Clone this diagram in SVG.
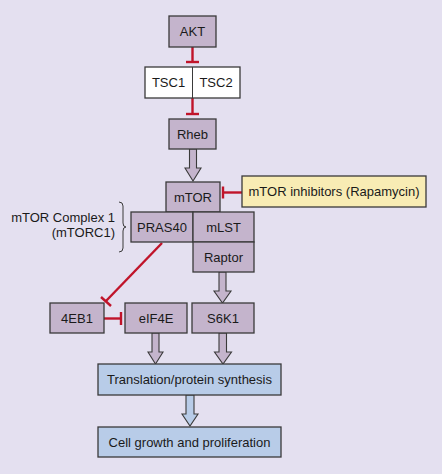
<svg xmlns="http://www.w3.org/2000/svg" width="442" height="474" viewBox="0 0 442 474">
<defs>
<style>
.bg{fill:#e4e0f0}
.n{fill:#c4b4cc;stroke:#3a3a3a;stroke-width:1.3}
.w{fill:#ffffff;stroke:#3a3a3a;stroke-width:1.3}
.b{fill:#b8cce8;stroke:#3a3a3a;stroke-width:1.3}
.y{fill:#f8ecb4;stroke:#3a3a3a;stroke-width:1.3}
.t{font-family:"Liberation Sans",Arial,sans-serif;font-size:13px;fill:#1a1a1a;text-anchor:middle}
.tr{font-family:"Liberation Sans",Arial,sans-serif;font-size:13px;fill:#1a1a1a;text-anchor:end}
.inh{stroke:#c0142a;stroke-width:2.4;fill:none}
.fa{fill:#c4b4cc;stroke:#3a3a3a;stroke-width:1.1}
.fab{fill:#b8cce8;stroke:#3a3a3a;stroke-width:1.1}
.br{fill:none;stroke:#3a3a3a;stroke-width:1}
</style>
</defs>
<rect class="bg" x="0" y="0" width="442" height="474"/>
<g id="connectors">
<line class="inh" x1="192.5" y1="47" x2="192.5" y2="62"/>
<line class="inh" x1="186" y1="62" x2="199" y2="62"/>
<line class="inh" x1="192.5" y1="98" x2="192.5" y2="114"/>
<line class="inh" x1="186" y1="114" x2="199" y2="114"/>
<polygon class="fa" points="189.5,149 196.5,149 196.5,168 201,168 193,181 185,168 189.5,168"/>
<line class="inh" x1="242" y1="192.5" x2="223" y2="192.5"/>
<line class="inh" x1="223" y1="186.5" x2="223" y2="198.5"/>
<line class="inh" x1="162" y1="243" x2="106" y2="301"/>
<line class="inh" x1="101" y1="297" x2="111" y2="306"/>
<line class="inh" x1="104" y1="318.5" x2="121" y2="318.5"/>
<line class="inh" x1="121" y1="312" x2="121" y2="325"/>
<polygon class="fa" points="219,272 226,272 226,291 231,291 222.5,303 214,291 219,291"/>
<polygon class="fa" points="152,333 159,333 159,352 163,352 155.5,364 148,352 152,352"/>
<polygon class="fa" points="219,333 226.5,333 226.5,352 231.5,352 223,364 214.5,352 219,352"/>
<polygon class="fab" points="186,395 194,395 194,414 198,414 190,426 182,414 186,414"/>
<path class="br" d="M119,202 Q123,202 123,206 L123,223 Q123,227 126,227 Q123,227 123,231 L123,248 Q123,252 119,252"/>
</g>
<g id="akt"><rect class="n" x="169" y="16" width="47" height="31"/><text class="t" x="192.5" y="36">AKT</text></g>
<g id="tsc"><rect class="w" x="145" y="67" width="95" height="31"/><line x1="192.5" y1="67" x2="192.5" y2="98" stroke="#3a3a3a" stroke-width="1"/><text class="t" x="168.5" y="87">TSC1</text><text class="t" x="216" y="87">TSC2</text></g>
<g id="rheb"><rect class="n" x="169" y="119" width="47" height="30"/><text class="t" x="192.5" y="139">Rheb</text></g>
<g id="mtor"><rect class="n" x="166" y="182" width="54" height="30"/><text class="t" x="193" y="202">mTOR</text></g>
<g id="inhibitors"><rect class="y" x="242" y="176" width="184" height="31"/><text class="t" x="334" y="196">mTOR inhibitors (Rapamycin)</text></g>
<g id="pras40"><rect class="n" x="131" y="212" width="62" height="30"/><text class="t" x="162" y="232">PRAS40</text></g>
<g id="mlst"><rect class="n" x="193" y="212" width="61" height="30"/><text class="t" x="223.5" y="232">mLST</text></g>
<g id="raptor"><rect class="n" x="193" y="242" width="61" height="30"/><text class="t" x="223.5" y="262">Raptor</text></g>
<g id="complex-label"><text class="tr" x="115" y="222">mTOR Complex 1</text><text class="tr" x="115" y="237">(mTORC1)</text></g>
<g id="4eb1"><rect class="n" x="50" y="303" width="54" height="30"/><text class="t" x="77" y="323">4EB1</text></g>
<g id="eif4e"><rect class="n" x="125" y="303" width="62" height="30"/><text class="t" x="156" y="323">eIF4E</text></g>
<g id="s6k1"><rect class="n" x="192" y="303" width="62" height="30"/><text class="t" x="223" y="323">S6K1</text></g>
<g id="translation"><rect class="b" x="98" y="364" width="183" height="31"/><text class="t" x="189.5" y="384">Translation/protein synthesis</text></g>
<g id="growth"><rect class="b" x="98" y="427" width="183" height="30"/><text class="t" x="189.5" y="446.5">Cell growth and proliferation</text></g>
</svg>
